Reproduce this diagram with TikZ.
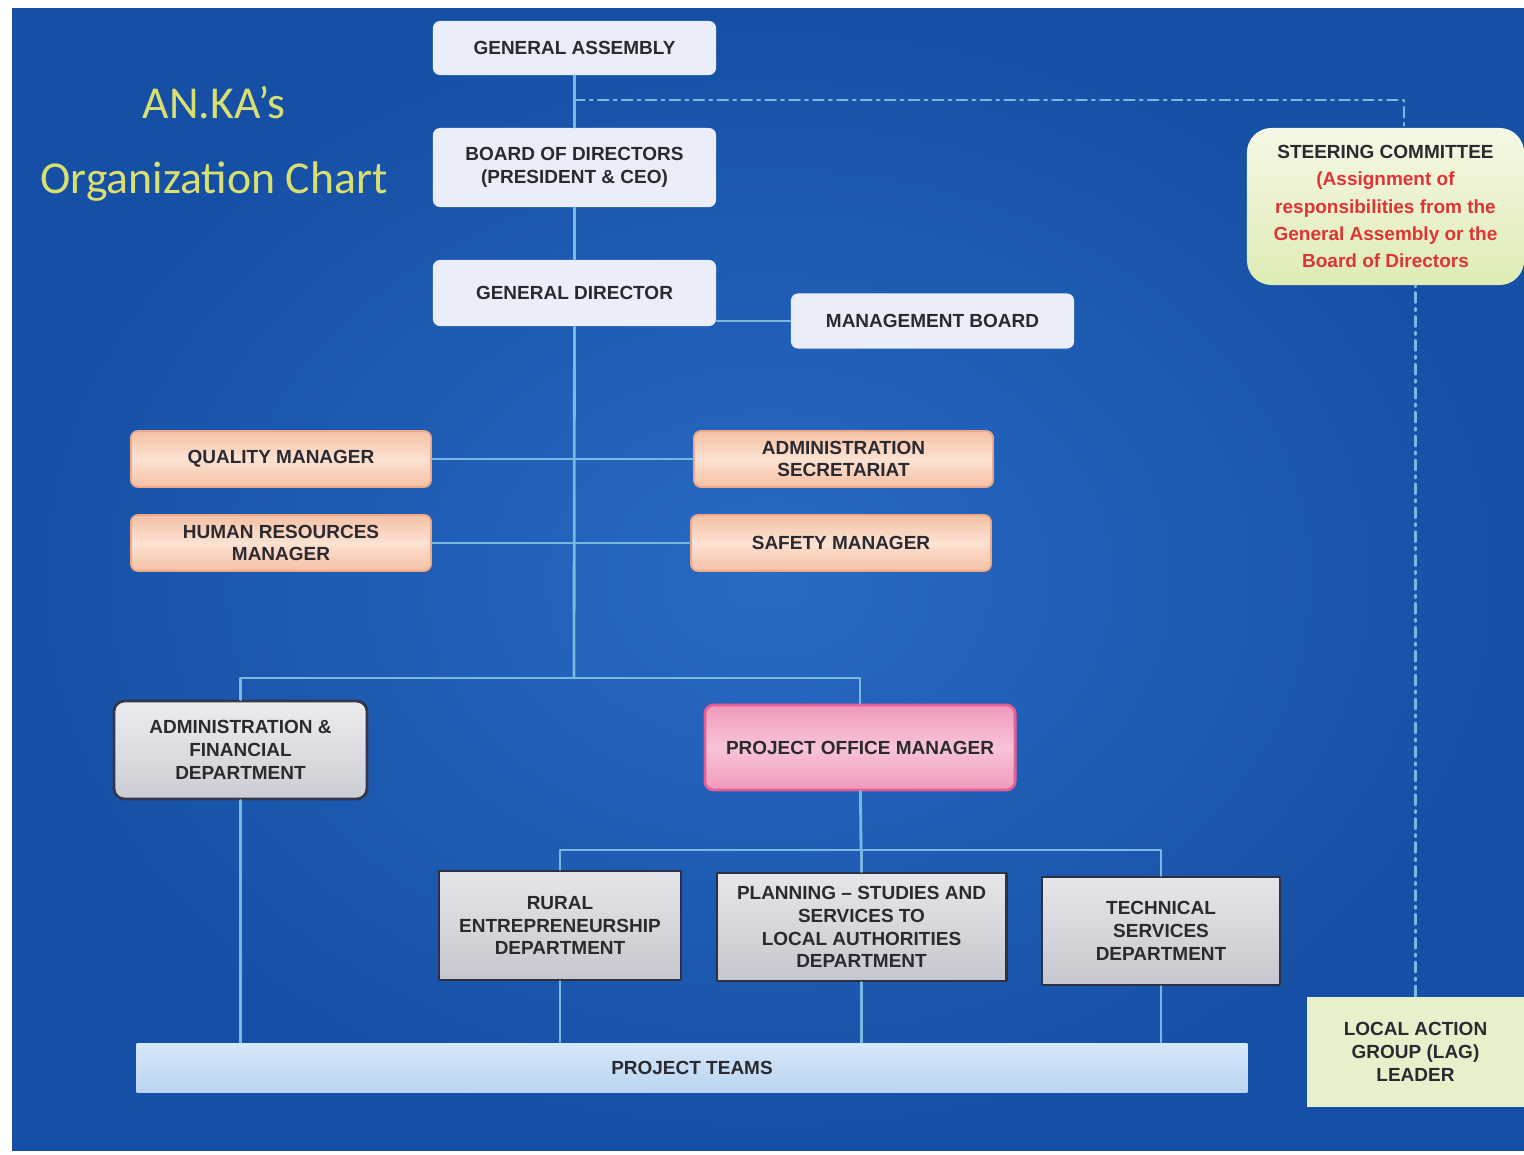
\documentclass[tikz,border=0pt]{standalone}
\usepackage{fontspec}
\setmainfont{Liberation Sans}
\newfontfamily\titlefont{Carlito}
\definecolor{bgin}{RGB}{40,106,196}
\definecolor{bgout}{RGB}{22,80,166}
\definecolor{lien}{RGB}{122,184,224}
\definecolor{texte}{RGB}{42,42,48}
\definecolor{titre}{RGB}{218,224,112}
\definecolor{rouge}{RGB}{222,52,52}
\begin{document}
\begin{tikzpicture}[x=0.01cm, y=-0.01cm, line join=round, line cap=round,
	font=\fontsize{5.4}{6.5}\selectfont\bfseries, text=texte,
	hop/.style={align=center, inner sep=0pt},
	tieude/.style={font=\fontsize{13}{15}\selectfont\titlefont, text=titre, anchor=base},
	trang/.style={hop, rounded corners=2pt, fill={rgb,255:red,233;green,238;blue,249}},
	cam/.style={hop, rounded corners=2pt, top color={rgb,255:red,245;green,192;blue,164}, bottom color={rgb,255:red,245;green,192;blue,164}, middle color={rgb,255:red,252;green,226;blue,210}, draw={rgb,255:red,236;green,168;blue,136}, line width=0.5pt},
	xam/.style={hop, rounded corners=3pt, top color={rgb,255:red,236;green,236;blue,240}, bottom color={rgb,255:red,204;green,204;blue,212}, draw={rgb,255:red,50;green,56;blue,74}, line width=0.8pt},
	hong/.style={hop, rounded corners=2.5pt, top color={rgb,255:red,240;green,152;blue,188}, bottom color={rgb,255:red,240;green,152;blue,188}, middle color={rgb,255:red,248;green,196;blue,216}, draw={rgb,255:red,230;green,96;blue,150}, line width=0.8pt},
	phong/.style={hop, top color={rgb,255:red,230;green,230;blue,234}, bottom color={rgb,255:red,198;green,198;blue,206}, draw={rgb,255:red,44;green,50;blue,66}, line width=0.8pt},
	nhom/.style={hop, top color={rgb,255:red,214;green,232;blue,250}, bottom color={rgb,255:red,186;green,212;blue,240}},
	ban/.style={hop, rounded corners=7pt, top color={rgb,255:red,246;green,247;blue,230}, bottom color={rgb,255:red,222;green,236;blue,180}},
	lag/.style={hop, fill={rgb,255:red,230;green,241;blue,204}},
	noi/.style={draw=lien, line width=0.8pt},
	tiet/.style={draw=lien, line width=0.6pt, dash pattern=on 3pt off 1.5pt on 0.8pt off 1.5pt}]
	% nen
	\useasboundingbox (0,0) rectangle (1524,1154);
	\shade[inner color=bgin, outer color=bgout] (12,8) rectangle (1524,1150);
	% tieu de
	\node[tieude] (T1) at (214,118) {AN.KA’s};
	\node[tieude] (T2) at (214,193) {Organization Chart};
	% khoi tren
	\node[trang, minimum width=2.83cm, minimum height=0.54cm] (GA) at (574.5,48) {GENERAL ASSEMBLY};
	\node[trang, minimum width=2.83cm, minimum height=0.79cm] (BD) at (574.5,167.5) {BOARD OF DIRECTORS\\(PRESIDENT \& CEO)};
	\node[trang, minimum width=2.83cm, minimum height=0.66cm] (GD) at (574.5,293) {GENERAL DIRECTOR};
	\node[trang, minimum width=2.83cm, minimum height=0.55cm] (MB) at (932.5,321) {MANAGEMENT BOARD};
	% tham muu
	\node[cam, minimum width=3.00cm, minimum height=0.56cm] (QM) at (281,459) {QUALITY MANAGER};
	\node[cam, minimum width=2.99cm, minimum height=0.56cm] (AS) at (843.5,459) {ADMINISTRATION\\SECRETARIAT};
	\node[cam, minimum width=3.00cm, minimum height=0.56cm] (HR) at (281,543) {HUMAN RESOURCES\\MANAGER};
	\node[cam, minimum width=3.00cm, minimum height=0.56cm] (SM) at (841,543) {SAFETY MANAGER};
	% phong ban
	\node[xam, minimum width=2.53cm, minimum height=0.98cm] (AFD) at (240.5,750) {ADMINISTRATION \&\\FINANCIAL\\DEPARTMENT};
	\node[hong, minimum width=3.10cm, minimum height=0.85cm] (POM) at (860,747.5) {PROJECT OFFICE MANAGER};
	\node[phong, minimum width=2.42cm, minimum height=1.09cm] (RED) at (560,925.5) {RURAL\\ENTREPRENEURSHIP\\DEPARTMENT};
	\node[phong, minimum width=2.89cm, minimum height=1.08cm] (PSS) at (861.5,927) {PLANNING -- STUDIES AND\\SERVICES TO\\LOCAL AUTHORITIES\\DEPARTMENT};
	\node[phong, minimum width=2.38cm, minimum height=1.08cm] (TSD) at (1161,931) {TECHNICAL\\SERVICES\\DEPARTMENT};
	\node[nhom, minimum width=11.10cm, minimum height=0.49cm] (PT) at (692,1067.5) {PROJECT TEAMS};
	% ben phai
	\node[ban, minimum width=2.77cm, minimum height=1.57cm, font=\fontsize{5.4}{7.8}\selectfont\bfseries] (SC) at (1385.5,206.5) {STEERING COMMITTEE\\\textcolor{rouge}{(Assignment of}\\\textcolor{rouge}{responsibilities from the}\\\textcolor{rouge}{General Assembly or the}\\\textcolor{rouge}{Board of Directors}};
	\node[lag, minimum width=2.17cm, minimum height=1.10cm] (LAG) at (1415.5,1052) {LOCAL ACTION\\GROUP (LAG)\\LEADER};
	% duong noi
	\coordinate (b1) at (574,678);
	\coordinate (b2) at (861,850);
	\coordinate (d1) at (574,100);
	\coordinate (d2) at (1404,100);
	\draw[noi] (GA) -- (BD);
	\draw[noi] (BD) -- (GD);
	\draw[noi] (GD) -- (b1);
	\draw[noi] (MB.west) -- (MB.west -| GD.east);
	\draw[noi] (QM.east) -- (AS.west);
	\draw[noi] (HR.east) -- (SM.west);
	\draw[noi] (AFD.north) -- (AFD.north |- b1) -- (POM.north |- b1) -- (POM.north);
	\draw[noi] (POM) -- (b2);
	\draw[noi] (RED.north) -- (RED.north |- b2) -- (TSD.north |- b2) -- (TSD.north);
	\draw[noi] (PSS.north) -- (PSS.north |- b2);
	\foreach \p in {AFD,RED,PSS,TSD}
		\draw[noi] (\p.south) -- (\p.south |- PT.north);
	\draw[tiet] (d1) -- (d2) -- (d2 |- SC.north);
	\draw[tiet] (LAG.north) -- (LAG.north |- SC.south);
\end{tikzpicture}
\end{document}
